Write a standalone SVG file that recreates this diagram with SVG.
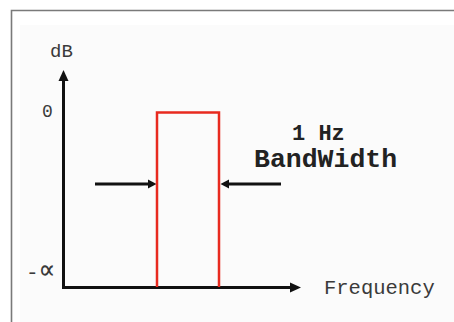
<svg xmlns="http://www.w3.org/2000/svg" width="454" height="322" viewBox="0 0 454 322">
<defs>
<style>
.axis{stroke:#111;stroke-width:3;fill:none}
.ptr{stroke:#111;stroke-width:3;fill:none}
.head{fill:#111}
.lbl{font-family:"Liberation Mono","DejaVu Sans Mono",monospace;fill:#3a3a3a}
.big{font-family:"Liberation Mono","DejaVu Sans Mono",monospace;font-weight:bold;fill:#222}
</style>
</defs>
<rect x="0" y="0" width="454" height="322" fill="#ffffff"/>
<rect x="20" y="25" width="434" height="297" fill="#fbfbfb"/>
<path d="M11.5 322 V10.5 H454" stroke="#7a7a7a" stroke-width="1.6" fill="none"/>
<g id="connectors">
<path class="axis" d="M63.5 80 V287.5 H291"/>
<polygon class="head" points="63.5,70 58.5,81 68.5,81"/>
<polygon class="head" points="301,287.5 290,282.5 290,292.5"/>
<path class="ptr" d="M95 184 H150"/>
<polygon class="head" points="156.5,184 148,179.5 148,188.5"/>
<path class="ptr" d="M281 184 H227"/>
<polygon class="head" points="220.5,184 229,179.5 229,188.5"/>
</g>
<g id="band">
<path d="M157 287 V112.5 H219 V287" stroke="#e82a1f" stroke-width="2.5" fill="none"/>
</g>
<g id="labels">
<text class="lbl" x="50" y="57" font-size="19">dB</text>
<text class="lbl" x="42" y="117" font-size="18">0</text>
<text class="lbl" x="26" y="279" font-family="'DejaVu Sans',sans-serif"><tspan font-size="21">-</tspan><tspan font-size="28">∝</tspan></text>
<text class="lbl" x="324" y="294" font-size="20.5">Frequency</text>
<text class="big" x="292" y="140" font-size="22">1 Hz</text>
<text class="big" x="254" y="167" font-size="26.5">BandWidth</text>
</g>
</svg>
